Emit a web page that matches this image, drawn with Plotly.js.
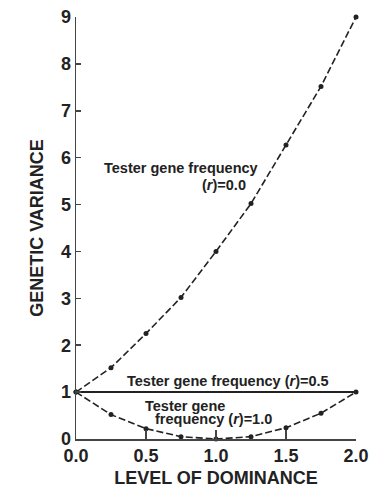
<!DOCTYPE html>
<html>
<head>
<meta charset="utf-8">
<script src="https://cdn.plot.ly/plotly-3.0.1.min.js"></script>
<style>html,body{margin:0;padding:0;background:#fff;}#chart{width:379px;height:492px;}</style>
</head>
<body>
<div id="chart"></div>
<script>
const dominance = [0.0, 0.25, 0.5, 0.75, 1.0, 1.25, 1.5, 1.75, 2.0];
const varianceR00 = [1.0, 1.52, 2.25, 3.02, 4.0, 5.02, 6.27, 7.52, 9.0];
const varianceR10 = [1.0, 0.52, 0.22, 0.05, 0.0, 0.05, 0.24, 0.55, 1.0];
const dominanceR05 = [0.0, 2.0];
const varianceR05 = [1.0, 1.0];
const xTicks = [0, 0.5, 1.0, 1.5, 2.0];
const xTickLabels = ["0.0", "0.5", "1.0", "1.5", "2.0"];
const yTicks = [0, 1, 2, 3, 4, 5, 6, 7, 8, 9];

const ink = '#222';
const fam = '"Liberation Sans", Arial, sans-serif';

const traces = [
  {x: dominance, y: varianceR00, mode: 'lines+markers', cliponaxis: false,
   line: {color: ink, width: 1.6, dash: '7px,3px'}, marker: {color: ink, size: 5}},
  {x: dominance, y: varianceR10, mode: 'lines+markers', cliponaxis: false,
   line: {color: ink, width: 1.6, dash: '7px,3px'}, marker: {color: ink, size: 5}},
  {x: dominanceR05, y: varianceR05, mode: 'lines', cliponaxis: false,
   line: {color: ink, width: 2}}
];

const annFont = {family: fam, size: 14.5, color: ink, weight: 700};
const layout = {
  width: 379, height: 492,
  margin: {l: 76, r: 23, t: 17, b: 53},
  paper_bgcolor: '#fff', plot_bgcolor: '#fff',
  showlegend: false,
  font: {family: fam, color: ink},
  xaxis: {
    range: [0, 2], tickvals: xTicks, ticktext: xTickLabels,
    ticks: 'inside', ticklen: 9, tickwidth: 1.5, tickcolor: '#444',
    showline: true, linecolor: '#444', linewidth: 1.5,
    showgrid: false, zeroline: false,
    tickfont: {family: fam, size: 18, color: ink, weight: 700},
    title: {text: 'LEVEL OF DOMINANCE', font: {family: fam, size: 18, color: ink, weight: 700}, standoff: 6}
  },
  yaxis: {
    range: [0, 9], tickvals: yTicks,
    ticks: 'inside', ticklen: 5, tickwidth: 1.5, tickcolor: '#444',
    showline: true, linecolor: '#444', linewidth: 1.5,
    showgrid: false, zeroline: false,
    tickfont: {family: fam, size: 18, color: ink, weight: 700},
    title: {text: 'GENETIC VARIANCE', font: {family: fam, size: 18, color: ink, weight: 700}, standoff: 12}
  },
  annotations: [
    {x: 0.75, y: 5.78, text: 'Tester gene frequency', showarrow: false, font: annFont, xanchor: 'center'},
    {x: 1.225, y: 5.42, text: '(<i>r</i>)=0.0', showarrow: false, font: annFont, xanchor: 'right'},
    {x: 1.086, y: 1.23, text: 'Tester gene frequency (<i>r</i>)=0.5', showarrow: false, font: annFont, xanchor: 'center'},
    {x: 0.78, y: 0.71, text: 'Tester gene', showarrow: false, font: annFont, xanchor: 'center'},
    {x: 0.985, y: 0.42, text: 'frequency (<i>r</i>)=1.0', showarrow: false, font: annFont, xanchor: 'center'}
  ]
};

Plotly.newPlot('chart', traces, layout, {displayModeBar: false, staticPlot: true});
</script>
</body>
</html>
